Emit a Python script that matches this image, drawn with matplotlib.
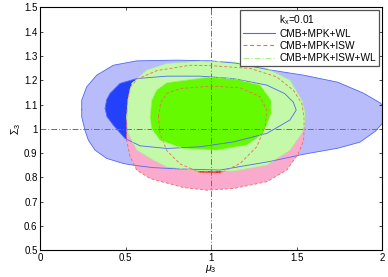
import numpy as np
import matplotlib
matplotlib.use("Agg")
import matplotlib.pyplot as plt
from matplotlib.lines import Line2D
from matplotlib.ticker import FuncFormatter

plt.rcParams["font.family"] = ["Liberation Sans", "DejaVu Sans"]
plt.rcParams["mathtext.fontset"] = "custom"
plt.rcParams["mathtext.rm"] = "Liberation Sans"
plt.rcParams["mathtext.it"] = "Liberation Sans:italic"

# contour outlines: (mu_3, Sigma_3)
WL_95 = [(0.242, 1.08), (0.242, 1.118), (0.271, 1.173), (0.33, 1.221), (0.427, 1.262),
         (0.564, 1.28), (0.80, 1.283), (1.00, 1.28), (1.15, 1.27), (1.34, 1.243),
         (1.54, 1.221), (1.74, 1.192), (1.89, 1.147), (1.99, 1.106), (2.03, 1.07),
         (2.01, 1.03), (1.96, 0.99), (1.87, 0.945), (1.74, 0.92), (1.54, 0.895),
         (1.34, 0.865), (1.05, 0.83), (0.80, 0.835), (0.66, 0.84), (0.543, 0.85),
         (0.486, 0.857), (0.388, 0.878), (0.32, 0.912), (0.281, 0.953), (0.261, 0.994),
         (0.242, 1.049)]
WL_68 = [(0.379, 1.084), (0.388, 1.12), (0.408, 1.146), (0.466, 1.187), (0.564, 1.207),
         (0.74, 1.217), (0.935, 1.217), (1.13, 1.207), (1.325, 1.18), (1.43, 1.145),
         (1.48, 1.11), (1.497, 1.077), (1.46, 1.036), (1.325, 0.981), (1.13, 0.946),
         (0.935, 0.926), (0.74, 0.919), (0.583, 0.93), (0.496, 0.96), (0.427, 1.015),
         (0.39, 1.05)]
ISW_95 = [(0.505, 1.049), (0.51, 1.118), (0.525, 1.17), (0.566, 1.205), (0.683, 1.24),
          (0.877, 1.262), (1.0, 1.26), (1.227, 1.249), (1.383, 1.214), (1.48, 1.159),
          (1.53, 1.104), (1.543, 1.049), (1.543, 0.994), (1.54, 0.953), (1.51, 0.898),
          (1.442, 0.830), (1.325, 0.782), (1.13, 0.754), (0.974, 0.747), (0.837, 0.758),
          (0.642, 0.795), (0.564, 0.83), (0.525, 0.885), (0.505, 0.953)]
ISW_68 = [(0.691, 1.049), (0.705, 1.11), (0.74, 1.146), (0.818, 1.166), (1.0, 1.176),
          (1.169, 1.169), (1.286, 1.132), (1.325, 1.077), (1.315, 1.008), (1.266, 0.926),
          (1.169, 0.857), (1.052, 0.818), (0.935, 0.820), (0.818, 0.855), (0.74, 0.91),
          (0.70, 0.98)]
ALL_95 = [(0.505, 1.049), (0.515, 1.118), (0.535, 1.187), (0.622, 1.242), (0.74, 1.269),
          (0.935, 1.279), (1.13, 1.276), (1.325, 1.249), (1.461, 1.2), (1.53, 1.118),
          (1.548, 1.07), (1.548, 1.02), (1.53, 0.981), (1.461, 0.912), (1.325, 0.85),
          (1.13, 0.826), (0.935, 0.826), (0.74, 0.843), (0.661, 0.871), (0.564, 0.912),
          (0.515, 0.981)]
ALL_68 = [(0.642, 1.049), (0.652, 1.118), (0.681, 1.16), (0.74, 1.19), (0.974, 1.212),
          (1.13, 1.207), (1.286, 1.18), (1.35, 1.118), (1.35, 1.063), (1.305, 0.981),
          (1.208, 0.933), (1.032, 0.912), (0.837, 0.919), (0.7, 0.953), (0.652, 1.0)]

LABELS = ["CMB+MPK+WL", "CMB+MPK+ISW", "CMB+MPK+ISW+WL"]
FILL = {"wl": ("#b9bcfa", "#2340fa"), "isw": ("#faaacd", "#ff1a1a"),
        "all": ("#c3f9a8", "#66fa00")}


def closed(pts):
    a = np.array(pts + [pts[0]])
    return a[:, 0], a[:, 1]


fig = plt.figure(figsize=(3.88, 2.77), dpi=100)
ax = fig.add_axes([0.104, 0.097, 0.881, 0.876])

sets = [("wl", WL_95, WL_68), ("isw", ISW_95, ISW_68), ("all", ALL_95, ALL_68)]
for key, c95, c68 in sets:
    x, y = closed(c95)
    ax.fill(x, y, color=FILL[key][0], lw=0, zorder=1)
    x, y = closed(c68)
    ax.fill(x, y, color=FILL[key][1], lw=0, zorder=1)

ax.axvline(1, color="#707070", lw=0.7, ls=(0, (6, 2, 1, 2)), zorder=2)
ax.axhline(1, color="#707070", lw=0.7, ls=(0, (6, 2, 1, 2)), zorder=2)

line_style = {"wl": ("#5068f5", "-"), "isw": ("#f06a55", (0, (3.5, 2.5))),
              "all": ("#a8f08a", (0, (5, 2, 1, 2)))}
for key, c95, c68 in sets:
    col, ls = line_style[key]
    for c in (c95, c68):
        x, y = closed(c)
        ax.plot(x, y, color=col, ls=ls, lw=0.6, zorder=3)

ax.set_xlim(0, 2)
ax.set_ylim(0.5, 1.5)
ax.set_xticks(np.arange(0, 2.01, 0.5))
ax.set_yticks(np.arange(0.5, 1.501, 0.1))
fmt = FuncFormatter(lambda v, p: f"{v:.1f}".rstrip("0").rstrip("."))
ax.xaxis.set_major_formatter(fmt)
ax.yaxis.set_major_formatter(fmt)
ax.tick_params(direction="in", length=2.5, width=0.5, labelsize=7, pad=2,
               top=True, right=True)
for s in ax.spines.values():
    s.set_linewidth(0.8)
ax.set_xlabel(r"$\mu_3$", fontsize=7.5, labelpad=0)
ax.set_ylabel(r"$\Sigma_3$", fontsize=7.5, labelpad=1)

handles = [Line2D([], [], color="none")]
labs = [r"k$_\mathrm{x}$=0.01"]
for key, lab in zip(["wl", "isw", "all"], LABELS):
    col, ls = line_style[key]
    handles.append(Line2D([], [], color=col, ls=ls, lw=0.8))
    labs.append(lab)
leg = ax.legend(handles, labs, loc="upper right", bbox_to_anchor=(0.991, 0.989),
                fontsize=7.3, frameon=True, fancybox=False, handlelength=3.2,
                handletextpad=0.4, labelspacing=0.2, borderpad=0.3,
                borderaxespad=0)
leg.get_frame().set_edgecolor("#505050")
leg.get_frame().set_linewidth(0.9)
leg.get_frame().set_alpha(1)

fig.savefig("out.png", dpi=100)
